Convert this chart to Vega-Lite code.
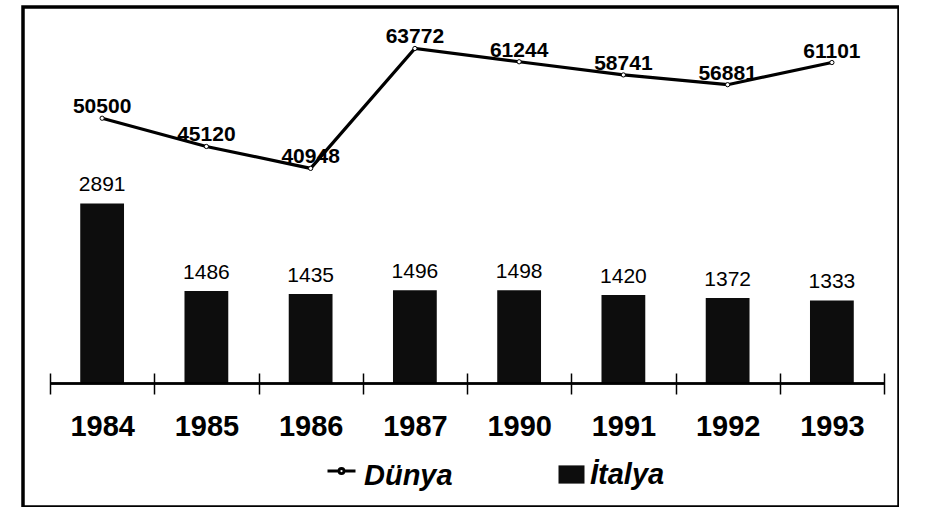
{
  "$schema": "https://vega.github.io/schema/vega-lite/v6.json",
  "width": 876,
  "height": 500,
  "autosize": {"type": "none"},
  "padding": {"left": 23, "top": 7, "right": 0, "bottom": 0},
  "background": "white",
  "config": {
    "view": {"stroke": "black", "strokeWidth": 3.5},
    "font": "Liberation Sans"
  },
  "data": {
    "values": [
      {"year": "1984", "dunya": 50500, "italya": 2891},
      {"year": "1985", "dunya": 45120, "italya": 1486},
      {"year": "1986", "dunya": 40948, "italya": 1435},
      {"year": "1987", "dunya": 63772, "italya": 1496},
      {"year": "1990", "dunya": 61244, "italya": 1498},
      {"year": "1991", "dunya": 58741, "italya": 1420},
      {"year": "1992", "dunya": 56881, "italya": 1372},
      {"year": "1993", "dunya": 61101, "italya": 1333}
    ]
  },
  "resolve": {
    "scale": {"x": "independent", "y": "independent"},
    "axis": {"x": "independent", "y": "independent"}
  },
  "layer": [
    {
      "encoding": {
        "x": {
          "field": "year",
          "type": "ordinal",
          "sort": null,
          "scale": {"type": "band", "paddingInner": 0, "paddingOuter": 0.2014, "align": 0.643},
          "axis": {
            "orient": "bottom",
            "offset": -134,
            "domain": false,
            "ticks": true,
            "tickBand": "extent",
            "tickSize": 21,
            "tickWidth": 1.5,
            "tickColor": "black",
            "labelAngle": 0,
            "labelFontSize": 29,
            "labelFontWeight": "bold",
            "labelColor": "black",
            "labelPadding": 18,
            "labelBaseline": "top",
            "title": null,
            "grid": false
          }
        },
        "y": {
          "field": "italya",
          "type": "quantitative",
          "scale": {"domain": [-1982, 6043], "nice": false},
          "axis": null
        }
      },
      "layer": [
        {
          "mark": {"type": "bar", "width": {"band": 0.42}, "color": "#0d0d0d"},
          "encoding": {
            "y2": {"datum": 0},
            "fill": {
              "datum": "İtalya",
              "scale": {"range": ["#0d0d0d"]},
              "legend": {
                "title": null,
                "orient": "none",
                "legendX": 534,
                "legendY": 453,
                "padding": 0,
                "symbolType": "M-1,-0.7H1V0.7H-1Z",
                "symbolSize": 676,
                "symbolStrokeWidth": 0,
                "labelFontSize": 29,
                "labelFontWeight": "bold",
                "labelFontStyle": "italic",
                "labelColor": "black",
                "labelOffset": 4,
                "labelLimit": 400
              }
            }
          }
        },
        {
          "mark": {"type": "text", "baseline": "alphabetic", "dy": -12, "fontSize": 21, "color": "black"},
          "encoding": {
            "text": {"field": "italya", "type": "quantitative", "format": "d"}
          }
        }
      ]
    },
    {
      "encoding": {
        "x": {
          "field": "year",
          "type": "ordinal",
          "sort": null,
          "scale": {"type": "band", "paddingInner": 0, "paddingOuter": 0.2014, "align": 0.643},
          "axis": null
        },
        "y": {
          "field": "dunya",
          "type": "quantitative",
          "scale": {"domain": [-23509, 71671], "nice": false},
          "axis": null
        }
      },
      "layer": [
        {
          "mark": {"type": "line", "strokeWidth": 3.2},
          "encoding": {
            "stroke": {
              "datum": "Dünya",
              "scale": {"range": ["black"]},
              "legend": {
                "title": null,
                "orient": "none",
                "legendX": 303,
                "legendY": 453,
                "padding": 0,
                "symbolType": "M-1,-0.32H-0.18M0.18,-0.32H1M-0.18,-0.32A0.18,0.18 0 1,0 0.18,-0.32A0.18,0.18 0 1,0 -0.18,-0.32",
                "symbolSize": 784,
                "symbolStrokeWidth": 2.8,
                "symbolFillColor": "white",
                "labelFontSize": 29,
                "labelFontWeight": "bold",
                "labelFontStyle": "italic",
                "labelColor": "black",
                "labelOffset": 7,
                "labelLimit": 400
              }
            }
          }
        },
        {
          "mark": {"type": "point", "filled": true, "fill": "white", "stroke": "black", "strokeWidth": 1, "size": 18, "opacity": 1},
          "encoding": {}
        },
        {
          "mark": {"type": "text", "baseline": "alphabetic", "dy": -5, "fontSize": 21, "fontWeight": "bold", "color": "black"},
          "encoding": {
            "text": {"field": "dunya", "type": "quantitative", "format": "d"}
          }
        }
      ]
    },
    {
      "mark": {"type": "rule", "color": "black", "strokeWidth": 1.5},
      "encoding": {
        "x": {"datum": 0, "type": "quantitative", "scale": {"domain": [-0.0332, 1.0177], "nice": false, "zero": false}, "axis": null},
        "x2": {"datum": 1},
        "y": {"datum": 0, "type": "quantitative", "scale": {"domain": [-1982, 6043], "nice": false}, "axis": null}
      }
    }
  ]
}
